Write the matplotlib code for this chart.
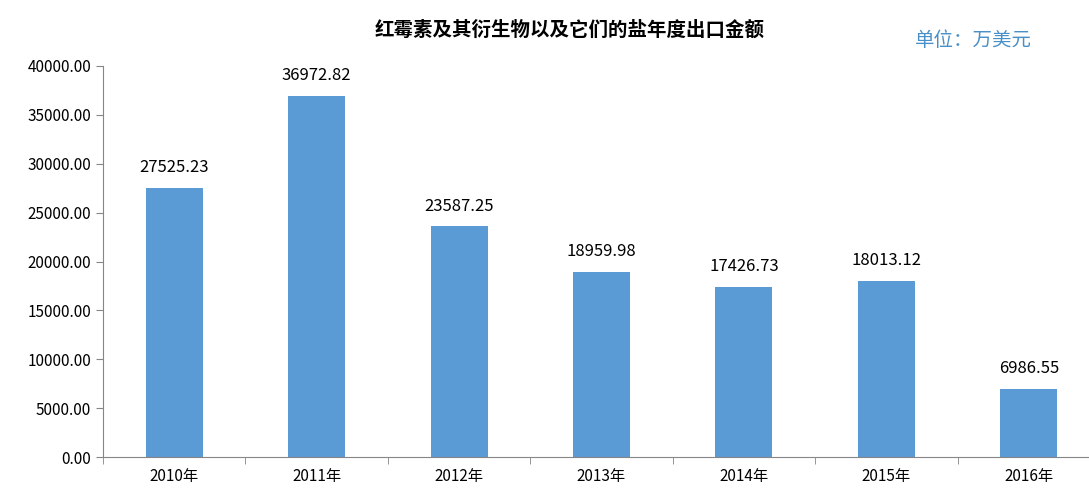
import matplotlib.pyplot as plt
import numpy as np

plt.rcParams['font.family'] = ['Noto Sans CJK SC', 'DejaVu Sans']

years = ['2010年', '2011年', '2012年', '2013年', '2014年', '2015年', '2016年']
values = [27525.23, 36972.82, 23587.25, 18959.98, 17426.73, 18013.12, 6986.55]

fig = plt.figure(figsize=(10.89, 5.03), dpi=100)
ax = fig.add_axes([103 / 1089, 1 - 457 / 503, (1100 - 103) / 1089, (457 - 66) / 503])
ax.set_clip_on(False)

x = np.arange(len(years))
ax.bar(x, values, width=0.4, color='#5B9BD5')
for xi, v in zip(x, values):
    ax.text(xi, v + 1200, f'{v:.2f}', ha='center', va='bottom', fontsize=12)

ax.set_xlim(-0.5, len(years) - 0.5)
ax.set_ylim(0, 40000)
ax.set_yticks(np.arange(0, 40001, 5000))
ax.set_yticklabels([f'{t:.2f}' for t in np.arange(0, 40001, 5000)], fontsize=11)
ax.set_xticks(x)
ax.set_xticklabels(years, fontsize=11)
ax.set_xticks(np.arange(-0.5, len(years), 1), minor=True)
ax.tick_params(axis='x', which='major', length=0, pad=8)
ax.tick_params(axis='x', which='minor', length=5, color='#868686')
ax.tick_params(axis='y', length=5, color='#868686')
for s in ['top', 'right']:
    ax.spines[s].set_visible(False)
for s in ['left', 'bottom']:
    ax.spines[s].set_color('#868686')

fig.text(570 / 1089, 1 - 30 / 503, '红霉素及其衍生物以及它们的盐年度出口金额',
         ha='center', va='center', fontsize=14, fontweight='bold')
fig.text(973 / 1089, 1 - 40 / 503, '单位：万美元', ha='center', va='center',
         fontsize=14, color='#4A90C8')

fig.savefig('out.png', dpi=100)
